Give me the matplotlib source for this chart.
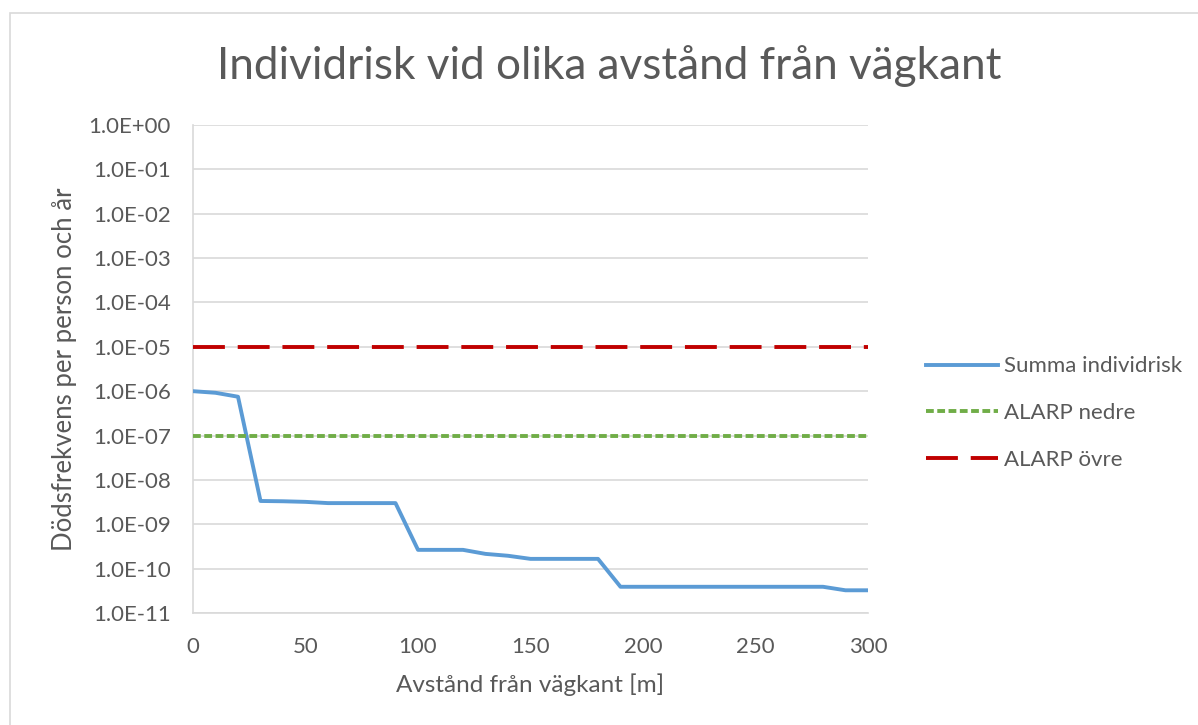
import matplotlib
matplotlib.use("Agg")
import matplotlib.pyplot as plt
from matplotlib.patches import Rectangle
from matplotlib.ticker import FixedLocator, FixedFormatter

# Data
distance_m = [0, 10, 20, 30, 40, 50, 60, 70, 80, 90, 100, 110, 120, 130, 140, 150,
              160, 170, 180, 190, 200, 210, 220, 230, 240, 250, 260, 270, 280, 290, 300]
summa_individrisk = [1.0e-06, 9.2e-07, 7.5e-07, 3.35e-09, 3.3e-09, 3.2e-09, 3.0e-09, 3.0e-09,
                     3.0e-09, 3.0e-09, 2.65e-10, 2.65e-10, 2.65e-10, 2.15e-10, 1.95e-10, 1.66e-10,
                     1.66e-10, 1.66e-10, 1.66e-10, 3.9e-11, 3.9e-11, 3.9e-11, 3.9e-11, 3.9e-11,
                     3.9e-11, 3.9e-11, 3.9e-11, 3.9e-11, 3.9e-11, 3.25e-11, 3.25e-11]
alarp_nedre = [1e-07] * len(distance_m)
alarp_ovre = [1e-05] * len(distance_m)

y_ticks = [1e0, 1e-1, 1e-2, 1e-3, 1e-4, 1e-5, 1e-6, 1e-7, 1e-8, 1e-9, 1e-10, 1e-11]
y_tick_labels = ["1.0E+00", "1.0E-01", "1.0E-02", "1.0E-03", "1.0E-04", "1.0E-05",
                 "1.0E-06", "1.0E-07", "1.0E-08", "1.0E-09", "1.0E-10", "1.0E-11"]
x_ticks = [0, 50, 100, 150, 200, 250, 300]

title = "Individrisk vid olika avstånd från vägkant"
x_label = "Avstånd från vägkant [m]"
y_label = "Dödsfrekvens per person och år"
series_names = ["Summa individrisk", "ALARP nedre", "ALARP övre"]

TEXT = "#595959"
GRID = "#D9D9D9"
plt.rcParams['font.family'] = ['Lato', 'DejaVu Sans']

W, H = 1198, 725
fig = plt.figure(figsize=(W / 100, H / 100), dpi=100)
fig.patch.set_facecolor("white")

# outer chart border
fig.patches.append(Rectangle((10 / W, -0.05), 1.2, 1 - 13 / H + 0.05, transform=fig.transFigure,
                             fill=False, edgecolor=GRID, linewidth=1.2))

ax = fig.add_axes([193 / W, 1 - 613 / H, (868 - 193) / W, (613 - 125) / H])
ax.set_yscale("log")
ax.set_xlim(0, 300)
ax.set_ylim(1e-11, 1e0)

lw = 2.8
ax.plot(distance_m, summa_individrisk, color="#5B9BD5", lw=lw, label=series_names[0],
        solid_joinstyle="round", zorder=3)
ax.plot(distance_m, alarp_nedre, color="#70AD47", lw=lw, linestyle=(0, (2.0, 0.9)),
        label=series_names[1], zorder=3)
ax.plot(distance_m, alarp_ovre, color="#C00000", lw=lw, linestyle=(0, (8.2, 3.3)),
        label=series_names[2], zorder=3)

ax.yaxis.set_major_locator(FixedLocator(y_ticks))
ax.yaxis.set_major_formatter(FixedFormatter(y_tick_labels))
ax.yaxis.set_minor_locator(FixedLocator([]))
ax.set_xticks(x_ticks)
ax.set_xticklabels([str(v) for v in x_ticks])

ax.grid(True, axis="y", color=GRID, lw=1.2, zorder=0)
for s in ["top", "right"]:
    ax.spines[s].set_visible(False)
ax.spines["left"].set_color(GRID)
ax.spines["bottom"].set_color(GRID)
ax.spines["left"].set_linewidth(1.2)
ax.spines["bottom"].set_linewidth(1.2)
ax.tick_params(axis="both", length=0, labelsize=16, labelcolor=TEXT)
ax.tick_params(axis="y", pad=16)
ax.tick_params(axis="x", pad=17)

ax.set_xlabel(x_label, fontsize=17.5, color=TEXT, labelpad=12)
ax.set_ylabel(y_label, fontsize=18.5, color=TEXT, labelpad=8)

fig.text(609 / W, 1 - 66 / H, title, fontsize=31.8, color=TEXT, ha="center", va="center")

leg = ax.legend(loc="center left", bbox_to_anchor=(926 / W, 1 - 413 / H),
                bbox_transform=fig.transFigure, frameon=False, fontsize=16,
                handlelength=3.25, labelspacing=1.2, handletextpad=0.25, borderpad=0,
                borderaxespad=0)
for t in leg.get_texts():
    t.set_color(TEXT)

fig.savefig("out.png", dpi=100)
